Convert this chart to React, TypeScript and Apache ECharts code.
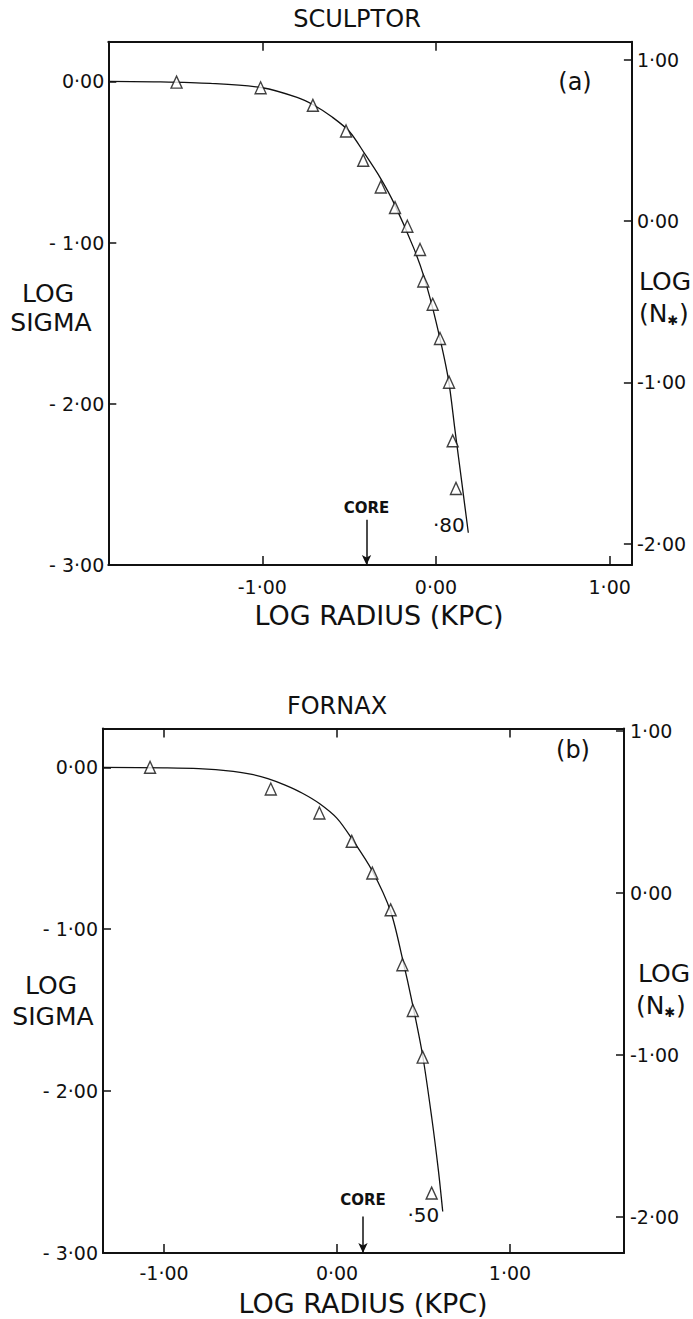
import React, { useEffect, useRef } from "react";
import * as echarts from "echarts";

// ---------- data ----------
// Sculptor (a)
const sculptorLogR = [-1.494, -1.01, -0.709, -0.518, -0.419, -0.318, -0.236, -0.165, -0.092, -0.073, -0.019, 0.023, 0.075, 0.096, 0.115];
const sculptorLogSigma = [-0.005, -0.04, -0.149, -0.308, -0.49, -0.655, -0.783, -0.899, -1.043, -1.238, -1.383, -1.595, -1.866, -2.23, -2.525];
const sculptorFitLogR = [-1.887, -1.6, -1.3, -1.0, -0.8, -0.7, -0.6, -0.5, -0.41, -0.32, -0.24, -0.13, -0.07, 0.0, 0.07, 0.11, 0.15, 0.186];
const sculptorFitLogSigma = [0.0, -0.003, -0.013, -0.04, -0.1, -0.15, -0.22, -0.31, -0.45, -0.6, -0.76, -1.03, -1.21, -1.49, -1.84, -2.17, -2.5, -2.8];
const sculptorCore = -0.4;
const sculptorEndLabel = "·80";

// Fornax (b)
const fornaxLogR = [-1.081, -0.383, -0.102, 0.085, 0.204, 0.31, 0.378, 0.438, 0.495, 0.547];
const fornaxLogSigma = [0.0, -0.134, -0.282, -0.457, -0.653, -0.88, -1.219, -1.502, -1.79, -2.63];
const fornaxFitLogR = [-1.353, -1.0, -0.8, -0.6, -0.5, -0.4, -0.3, -0.2, -0.1, 0.0, 0.085, 0.204, 0.31, 0.378, 0.438, 0.495, 0.547, 0.586, 0.611];
const fornaxFitLogSigma = [0.0, -0.003, -0.008, -0.025, -0.042, -0.07, -0.11, -0.16, -0.225, -0.315, -0.44, -0.64, -0.89, -1.18, -1.47, -1.78, -2.16, -2.49, -2.744];
const fornaxCore = 0.15;
const fornaxEndLabel = "·50";

// tick values
const xTicks = [-1, 0, 1];
const xTopTicksA = [-1, 0];
const xTopTicksB = [-1, 0, 1];
const sigmaTicks = [-3, -2, -1, 0];
const nStarTicks = [-2, -1, 0, 1];

const FONT = '"DejaVu Sans", sans-serif';
const INK = "#111";

const fmtLeft = (v: number) => (v < 0 ? "- " : "") + Math.abs(v).toFixed(2).replace(".", "·");
const fmtPlain = (v: number) => (v < 0 ? "-" : "") + Math.abs(v).toFixed(2).replace(".", "·");

export default function App() {
  const ref = useRef<HTMLDivElement>(null);

  useEffect(() => {
    if (!ref.current) return;
    const chart = echarts.init(ref.current, undefined, { renderer: "svg" });

    const zip = (a: number[], b: number[]) => a.map((v, i) => [v, b[i]]);

    const axisLine = { show: true, onZero: false, lineStyle: { color: INK, width: 2 } };
    const tickStyle = { color: INK, width: 1.5 };
    const labelBase = { color: INK, fontFamily: FONT, fontSize: 19 };

    const xAx = (grid: number, min: number, max: number, pos: string, ticks: number[], showLabel: boolean, margin: number) => ({
      type: "value",
      gridIndex: grid,
      position: pos,
      min,
      max,
      axisLine,
      splitLine: { show: false },
      axisTick: { show: true, inside: true, length: 9, lineStyle: tickStyle, customValues: ticks },
      axisLabel: showLabel
        ? { ...labelBase, margin, customValues: ticks, formatter: (v: number) => fmtPlain(v) }
        : { show: false },
    });

    const yAx = (grid: number, min: number, max: number, pos: string, ticks: number[], fmt: (v: number) => string, margin: number) => ({
      type: "value",
      gridIndex: grid,
      position: pos,
      min,
      max,
      axisLine,
      splitLine: { show: false },
      axisTick: { show: true, inside: true, length: 8, lineStyle: tickStyle, customValues: ticks },
      axisLabel: { ...labelBase, margin, customValues: ticks, formatter: fmt },
    });

    const fitSeries = (
      xi: number, yi: number, rx: number[], ry: number[], core: number, coreTop: number,
      coreSym: string, coreDist: number, endLabel: string, endOffset: number[]
    ) => ({
      type: "line",
      xAxisIndex: xi,
      yAxisIndex: yi,
      data: zip(rx, ry),
      showSymbol: false,
      symbol: "none",
      smooth: 0.3,
      lineStyle: { color: INK, width: 1.3 },
      z: 2,
      markLine: {
        silent: true,
        symbol: ["none", coreSym],
        symbolSize: [7, 10],
        lineStyle: { color: INK, width: 1.5, type: "solid" },
        label: {
          show: true,
          position: "start",
          distance: coreDist,
          formatter: "CORE",
          color: INK,
          fontFamily: FONT,
          fontWeight: "bold",
          fontSize: 15,
        },
        data: [[{ coord: [core, coreTop] }, { coord: [core, -3] }]],
      },
      markPoint: {
        silent: true,
        symbol: "circle",
        symbolSize: 1,
        itemStyle: { color: "rgba(0,0,0,0)" },
        label: {
          show: true,
          position: "left",
          distance: 3,
          offset: endOffset,
          formatter: endLabel,
          color: INK,
          fontFamily: FONT,
          fontSize: 20,
        },
        data: [{ coord: [rx[rx.length - 1], ry[ry.length - 1]] }],
      },
    });

    const pointSeries = (xi: number, yi: number, rx: number[], ry: number[]) => ({
      type: "scatter",
      xAxisIndex: xi,
      yAxisIndex: yi,
      data: zip(rx, ry),
      symbol: "triangle",
      symbolSize: [11, 12],
      itemStyle: { color: "#fff", borderColor: INK, borderWidth: 1.4 },
      z: 3,
    });

    const txt = (x: number, y: number, text: string, size: number, weight = "normal") => ({
      type: "text",
      x,
      y,
      style: {
        text,
        fill: INK,
        font: `${weight} ${size}px ${FONT}`,
        textAlign: "center",
        textVerticalAlign: "middle",
      },
    });

    const nStar = (x: number, y: number) => ({
      type: "group",
      children: [
        { type: "text", x, y, style: { text: "(N", fill: INK, font: `25px ${FONT}`, textAlign: "left", textVerticalAlign: "middle" } },
        { type: "text", x: x + 34, y: y + 7, style: { text: "✱", fill: INK, font: `13px ${FONT}`, textAlign: "center", textVerticalAlign: "middle" } },
        { type: "text", x: x + 40, y, style: { text: ")", fill: INK, font: `25px ${FONT}`, textAlign: "left", textVerticalAlign: "middle" } },
      ],
    });

    chart.setOption({
      animation: false,
      backgroundColor: "#fff",
      grid: [
        { left: 108.3, top: 41.7, width: 523.6, height: 523.3 },
        { left: 103, top: 728.5, width: 521, height: 524.5 },
      ],
      xAxis: [
        xAx(0, -1.887, 1.128, "bottom", xTicks, true, 12),
        xAx(0, -1.887, 1.128, "top", xTopTicksA, false, 0),
        xAx(1, -1.353, 1.659, "bottom", xTicks, true, 10),
        xAx(1, -1.353, 1.659, "top", xTopTicksB, false, 0),
      ],
      yAxis: [
        yAx(0, -3, 0.2457, "left", sigmaTicks, fmtLeft, 4),
        yAx(0, -2.133, 1.113, "right", nStarTicks, fmtPlain, 5),
        yAx(1, -3, 0.24, "left", sigmaTicks, fmtLeft, 5),
        yAx(1, -2.224, 1.016, "right", nStarTicks, fmtPlain, 6),
      ],
      series: [
        fitSeries(0, 0, sculptorFitLogR, sculptorFitLogSigma, sculptorCore, -2.72, "arrow", 4, sculptorEndLabel, [0, -8]),
        pointSeries(0, 0, sculptorLogR, sculptorLogSigma),
        fitSeries(2, 2, fornaxFitLogR, fornaxFitLogSigma, fornaxCore, -2.775, "arrow", 9, fornaxEndLabel, [0, 3]),
        pointSeries(2, 2, fornaxLogR, fornaxLogSigma),
      ],
      graphic: [
        txt(357, 18.5, "SCULPTOR", 24),
        txt(575, 82, "(a)", 24),
        txt(379, 615, "LOG RADIUS (KPC)", 27),
        txt(48, 293.5, "LOG", 25),
        txt(51, 322, "SIGMA", 25),
        txt(665, 281, "LOG", 25),
        nStar(639, 313),
        txt(337, 706, "FORNAX", 24),
        txt(573, 750, "(b)", 24),
        txt(363, 1303, "LOG RADIUS (KPC)", 27),
        txt(51, 985, "LOG", 25),
        txt(53, 1016.7, "SIGMA", 25),
        txt(664, 973, "LOG", 25),
        nStar(636, 1005),
      ],
    });

    return () => chart.dispose();
  }, []);

  return (
    <div
      ref={ref}
      style={{ position: "absolute", left: 0, top: 0, width: 693, height: 1319, background: "#fff" }}
    />
  );
}
